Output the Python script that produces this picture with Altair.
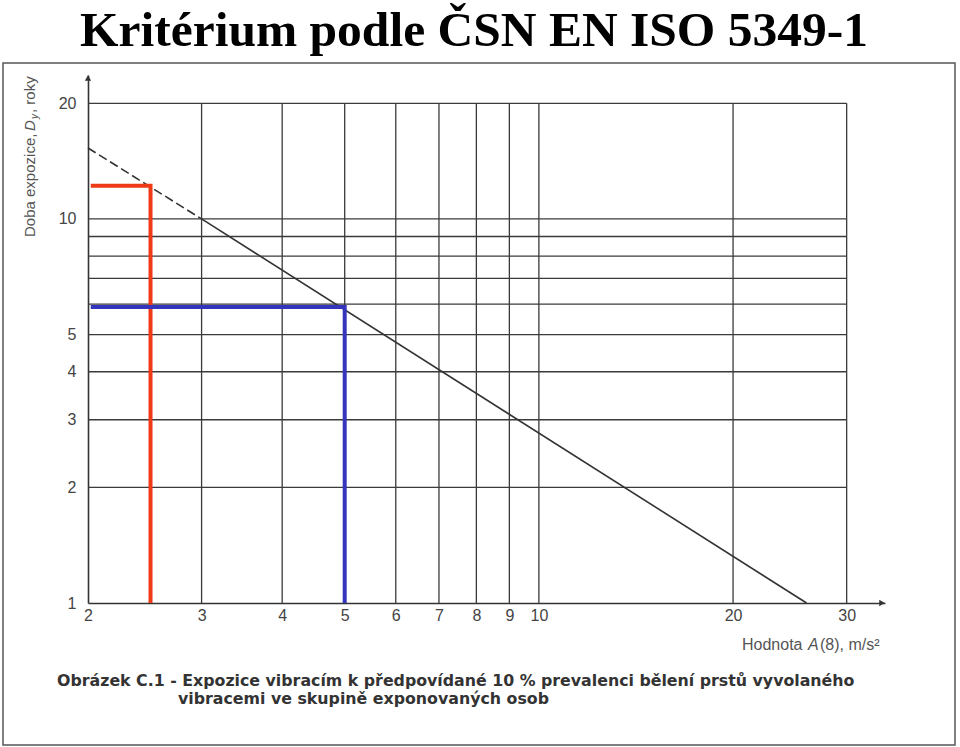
import altair as alt
import pandas as pd

# ---- data ----
x_ticks = [2, 3, 4, 5, 6, 7, 8, 9, 10, 20, 30]
y_ticks = [1, 2, 3, 4, 5, 10, 20]
x_grid = [3, 4, 5, 6, 7, 8, 9, 10, 20, 30]
y_grid = [2, 3, 4, 5, 6, 7, 8, 9, 10, 20]

dash_A = [2.0, 3.0]
dash_D = [15.3, 10.0]
solid_A = [3.0, 26.0]
solid_D = [10.0, 1.0]

red_A = [2.02, 2.5, 2.5]
red_D = [12.2, 12.2, 1.0]
blue_A = [2.02, 5.0, 5.0]
blue_D = [5.9, 5.9, 1.0]

X_DOMAIN = [2, 34.4]
Y_DOMAIN = [1, 23.7]
W, H = 797, 528
LEFT, TOP = 88, 75

xs = alt.Scale(type="log", domain=X_DOMAIN, nice=False)
ys = alt.Scale(type="log", domain=Y_DOMAIN, nice=False)

GRID = "#3a3a3a"
TICKFONT = "Liberation Sans"

vgrid = pd.DataFrame({"A": x_grid, "lo": 1, "hi": 20})
hgrid = pd.DataFrame({"D": y_grid, "lo": 2, "hi": 30})

xaxis = alt.Axis(values=x_ticks, format="d", grid=False, ticks=False,
                 domainColor="#333", domainWidth=1.6, labelFont=TICKFONT,
                 labelFontSize=16, labelColor="#444", labelPadding=4,
                 title=None, labelOverlap=False, labelFlush=False)
yaxis = alt.Axis(values=y_ticks, format="d", grid=False, ticks=False,
                 domainColor="#333", domainWidth=1.6, labelFont=TICKFONT,
                 labelFontSize=16, labelColor="#444", labelPadding=12,
                 title=None, labelOverlap=False, labelFlush=False)

v_layer = alt.Chart(vgrid).mark_rule(color=GRID, strokeWidth=1.3).encode(
    x=alt.X("A:Q", scale=xs, axis=xaxis),
    y=alt.Y("lo:Q", scale=ys, axis=yaxis),
    y2="hi:Q",
)
h_layer = alt.Chart(hgrid).mark_rule(color=GRID, strokeWidth=1.3).encode(
    y=alt.Y("D:Q", scale=ys),
    x=alt.X("lo:Q", scale=xs),
    x2="hi:Q",
)

def path(A, D):
    return pd.DataFrame({"A": A, "D": D, "i": list(range(len(A)))})

dash_layer = alt.Chart(path(dash_A, dash_D)).mark_line(
    color="#333", strokeWidth=1.6, strokeDash=[9, 4]).encode(
    x=alt.X("A:Q", scale=xs), y=alt.Y("D:Q", scale=ys), order="i:Q")
solid_layer = alt.Chart(path(solid_A, solid_D)).mark_line(
    color="#333", strokeWidth=1.6).encode(
    x=alt.X("A:Q", scale=xs), y=alt.Y("D:Q", scale=ys), order="i:Q")
red_layer = alt.Chart(path(red_A, red_D)).mark_line(
    color="#ee3a16", strokeWidth=4, strokeJoin="miter", strokeCap="butt").encode(
    x=alt.X("A:Q", scale=xs), y=alt.Y("D:Q", scale=ys), order="i:Q")
blue_layer = alt.Chart(path(blue_A, blue_D)).mark_line(
    color="#3434bc", strokeWidth=4, strokeJoin="miter", strokeCap="butt").encode(
    x=alt.X("A:Q", scale=xs), y=alt.Y("D:Q", scale=ys), order="i:Q")

anchor = pd.DataFrame({"k": [0]})

def txt(text, px, py, **kw):
    return alt.Chart(anchor).mark_text(text=text, **kw).encode(
        x=alt.value(px - LEFT), y=alt.value(py - TOP))

# arrowheads
arrow_x = alt.Chart(anchor).mark_point(shape="triangle-right", filled=True,
                                       color="#333", size=40, opacity=1).encode(
    x=alt.value(W - 3), y=alt.value(H))
arrow_y = alt.Chart(anchor).mark_point(shape="triangle-up", filled=True,
                                       color="#333", size=40, opacity=1).encode(
    x=alt.value(0), y=alt.value(3))

frame = alt.Chart(anchor).mark_rect(fill=None, stroke="#555", strokeWidth=1.5).encode(
    x=alt.value(3 - LEFT), x2=alt.value(955 - LEFT),
    y=alt.value(63 - TOP), y2=alt.value(745 - TOP))

title = txt("Kritérium podle ČSN EN ISO 5349-1", 474, 46, font="Liberation Serif",
            fontSize=49.5, fontWeight="bold", color="#000", align="center",
            baseline="alphabetic")

LAB = dict(font="Liberation Sans", fontSize=15, color="#555", baseline="middle")
ylab1 = txt("Doba expozice, ", 30, 237, angle=270, align="left", **LAB)
ylab2 = txt("D", 30, 131, angle=270, align="left", fontStyle="italic",
            font="Liberation Sans", fontSize=15, color="#555", baseline="middle")
ylab3 = txt("y", 35, 119, angle=270, align="left", fontStyle="italic",
            font="Liberation Sans", fontSize=10, color="#555", baseline="middle")
ylab4 = txt(", roky", 30, 113, angle=270, align="left", **LAB)

XL = dict(font="Liberation Sans", fontSize=16, color="#555", baseline="middle")
xlab1 = txt("Hodnota", 742, 645, align="left", **XL)
xlab2 = txt("A", 808, 645, align="left", fontStyle="italic", **XL)
xlab3 = txt("(8), m/s²", 820, 645, align="left", **XL)

CAP = dict(font="DejaVu Sans", fontSize=15.8, fontWeight="bold", color="#333",
           align="left", baseline="middle")
cap1 = txt("Obrázek C.1 - Expozice vibracím k předpovídané 10 % prevalenci bělení prstů vyvolaného",
           57, 681, **CAP)
cap2 = txt("vibracemi ve skupině exponovaných osob", 178, 698.5, **CAP)

chart = alt.layer(
    frame, v_layer, h_layer, dash_layer, solid_layer, red_layer, blue_layer,
    arrow_x, arrow_y, title, ylab1, ylab2, ylab3, ylab4, xlab1, xlab2, xlab3,
    cap1, cap2,
).properties(
    width=W, height=H,
    autosize=alt.AutoSizeParams(type="none"),
    padding={"left": LEFT, "top": TOP, "right": 960 - LEFT - W, "bottom": 747 - TOP - H},
    background="white",
).configure_view(stroke=None)

chart.save("out.html", embed_options={"renderer": "svg", "actions": False})
